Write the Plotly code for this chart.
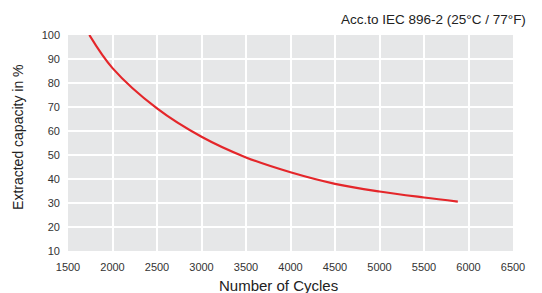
import plotly.graph_objects as go

cycles = [1740, 2000, 2500, 3000, 3500, 4000, 4500, 5000, 5500, 5880]
capacity = [100, 86.2, 69.4, 57.6, 49.0, 42.8, 38.0, 34.8, 32.3, 30.6]

x_ticks = [1500, 2000, 2500, 3000, 3500, 4000, 4500, 5000, 5500, 6000, 6500]
y_ticks = [10, 20, 30, 40, 50, 60, 70, 80, 90, 100]

title_text = "Acc.to IEC 896-2 (25°C / 77°F)"
x_title = "Number of Cycles"
y_title = "Extracted capacity in %"

font_family = "Liberation Sans, Arial, sans-serif"

fig = go.Figure()
fig.add_trace(go.Scatter(
    x=cycles, y=capacity, mode="lines",
    line=dict(color="#e4262a", width=2.2, shape="spline", smoothing=1.0),
    hoverinfo="skip", showlegend=False,
))

fig.update_layout(
    width=534, height=285,
    margin=dict(l=60, r=29, t=27, b=42, autoexpand=False),
    paper_bgcolor="white",
    plot_bgcolor="#e6e7e8",
    font=dict(family=font_family, color="#333333", size=11),
    xaxis=dict(
        range=[1500, 6500], tickvals=x_ticks, ticktext=[str(v) for v in x_ticks],
        showgrid=True, gridcolor="white", gridwidth=1.5, zeroline=False,
        showline=False, ticks="", ticklabelstandoff=8, automargin=False,
        tickfont=dict(size=11, color="#333333"),
    ),
    yaxis=dict(
        range=[10, 100], tickvals=y_ticks, ticktext=[str(v) for v in y_ticks],
        showgrid=True, gridcolor="white", gridwidth=1.5, zeroline=False,
        showline=False, ticks="", ticklabelstandoff=7, automargin=False,
        tickfont=dict(size=11, color="#333333"),
    ),
    annotations=[
        dict(
            text=title_text, xref="paper", yref="paper", x=1, y=1,
            xanchor="right", yanchor="middle", yshift=16, xshift=15, showarrow=False,
            font=dict(size=13.5, color="#222222", family=font_family),
        ),
        dict(
            text=x_title, xref="paper", yref="paper", x=0.472, y=0,
            xanchor="center", yanchor="middle", yshift=-34, showarrow=False,
            font=dict(size=15, color="#222222", family=font_family),
        ),
        dict(
            text=y_title, xref="paper", yref="paper", x=0, y=0.528,
            xanchor="center", yanchor="middle", xshift=-50, textangle=-90,
            showarrow=False,
            font=dict(size=14, color="#222222", family=font_family),
        ),
    ],
)

fig.write_html("out.html")
